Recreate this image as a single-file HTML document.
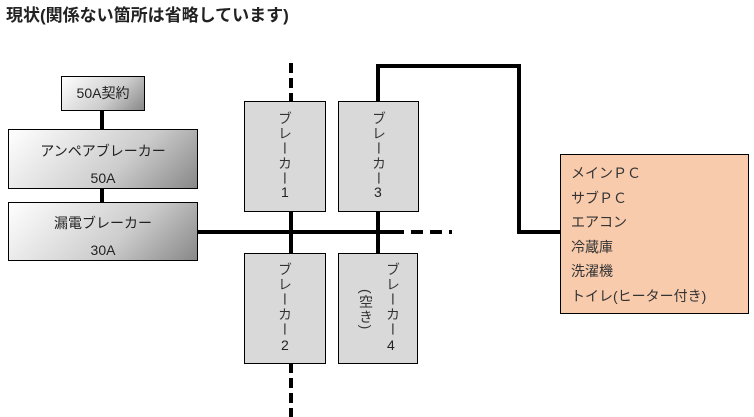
<!DOCTYPE html>
<html><head><meta charset="utf-8"><style>
body{margin:0;width:754px;height:417px;background:#fff;position:relative;overflow:hidden;font-family:"Liberation Sans","Noto Sans CJK JP",sans-serif;}
.b{position:absolute;box-sizing:border-box;border:1px solid #000;}
.g{background:linear-gradient(135deg,#fff 0%,#ccc 60%,#888 100%);text-align:center;color:#222;font-size:14px;}
.br{background:#d9d9d9;}
.v{position:absolute;writing-mode:vertical-rl;font-size:14px;color:#333;letter-spacing:1px;}
.n{position:absolute;font-size:14px;color:#222;}
</style></head><body>
<div style="position:absolute;left:6px;top:1px;font-size:17px;font-weight:bold;color:#222;">現状(関係ない箇所は省略しています)</div>
<svg width="754" height="417" style="position:absolute;left:0;top:0">
<g stroke="#000" stroke-width="4" fill="none">
<line x1="102" y1="110" x2="102" y2="129"/>
<line x1="102" y1="188" x2="102" y2="202"/>
<line x1="197" y1="232" x2="392" y2="232"/>
<line x1="392" y1="232" x2="452" y2="232" stroke-dasharray="12,7"/>
<line x1="291" y1="63" x2="291" y2="101" stroke-dasharray="10,5"/>
<line x1="291" y1="211" x2="291" y2="253"/>
<line x1="291" y1="363" x2="291" y2="417" stroke-dasharray="10,5"/>
<polyline points="378,101 378,66 519,66 519,232 560,232"/>
<line x1="378" y1="211" x2="378" y2="253"/>
</g></svg>
<div class="b g" style="left:61px;top:76px;width:84px;height:35px;line-height:33px;">50A契約</div>
<div class="b g" style="left:8px;top:129px;width:190px;height:60px;padding-top:8px;line-height:27px;">アンペアブレーカー<br>50A</div>
<div class="b g" style="left:8px;top:202px;width:190px;height:59px;padding-top:7px;line-height:27px;">漏電ブレーカー<br>30A</div>
<div class="b br" style="left:244px;top:101px;width:82px;height:111px;"></div>
<div class="v" style="left:275px;top:111px;">ブレーカー</div><div class="n" style="left:281px;top:184px;">1</div>
<div class="b br" style="left:338px;top:101px;width:81px;height:111px;"></div>
<div class="v" style="left:369px;top:111px;">ブレーカー</div><div class="n" style="left:374px;top:184px;">3</div>
<div class="b br" style="left:244px;top:253px;width:82px;height:111px;"></div>
<div class="v" style="left:275px;top:262px;">ブレーカー</div><div class="n" style="left:281px;top:337px;">2</div>
<div class="b br" style="left:338px;top:253px;width:80px;height:111px;"></div>
<div class="v" style="left:383px;top:262px;">ブレーカー</div><div class="n" style="left:387px;top:337px;">4</div>
<div class="v" style="left:356px;top:289px;">(空き)</div>
<div class="b" style="left:560px;top:154px;width:189px;height:160px;background:#f8cbad;padding:6px 0 0 10px;font-size:14px;line-height:24.6px;color:#333;">メインＰＣ<br>サブＰＣ<br>エアコン<br>冷蔵庫<br>洗濯機<br>トイレ(ヒーター付き)</div>
</body></html>
